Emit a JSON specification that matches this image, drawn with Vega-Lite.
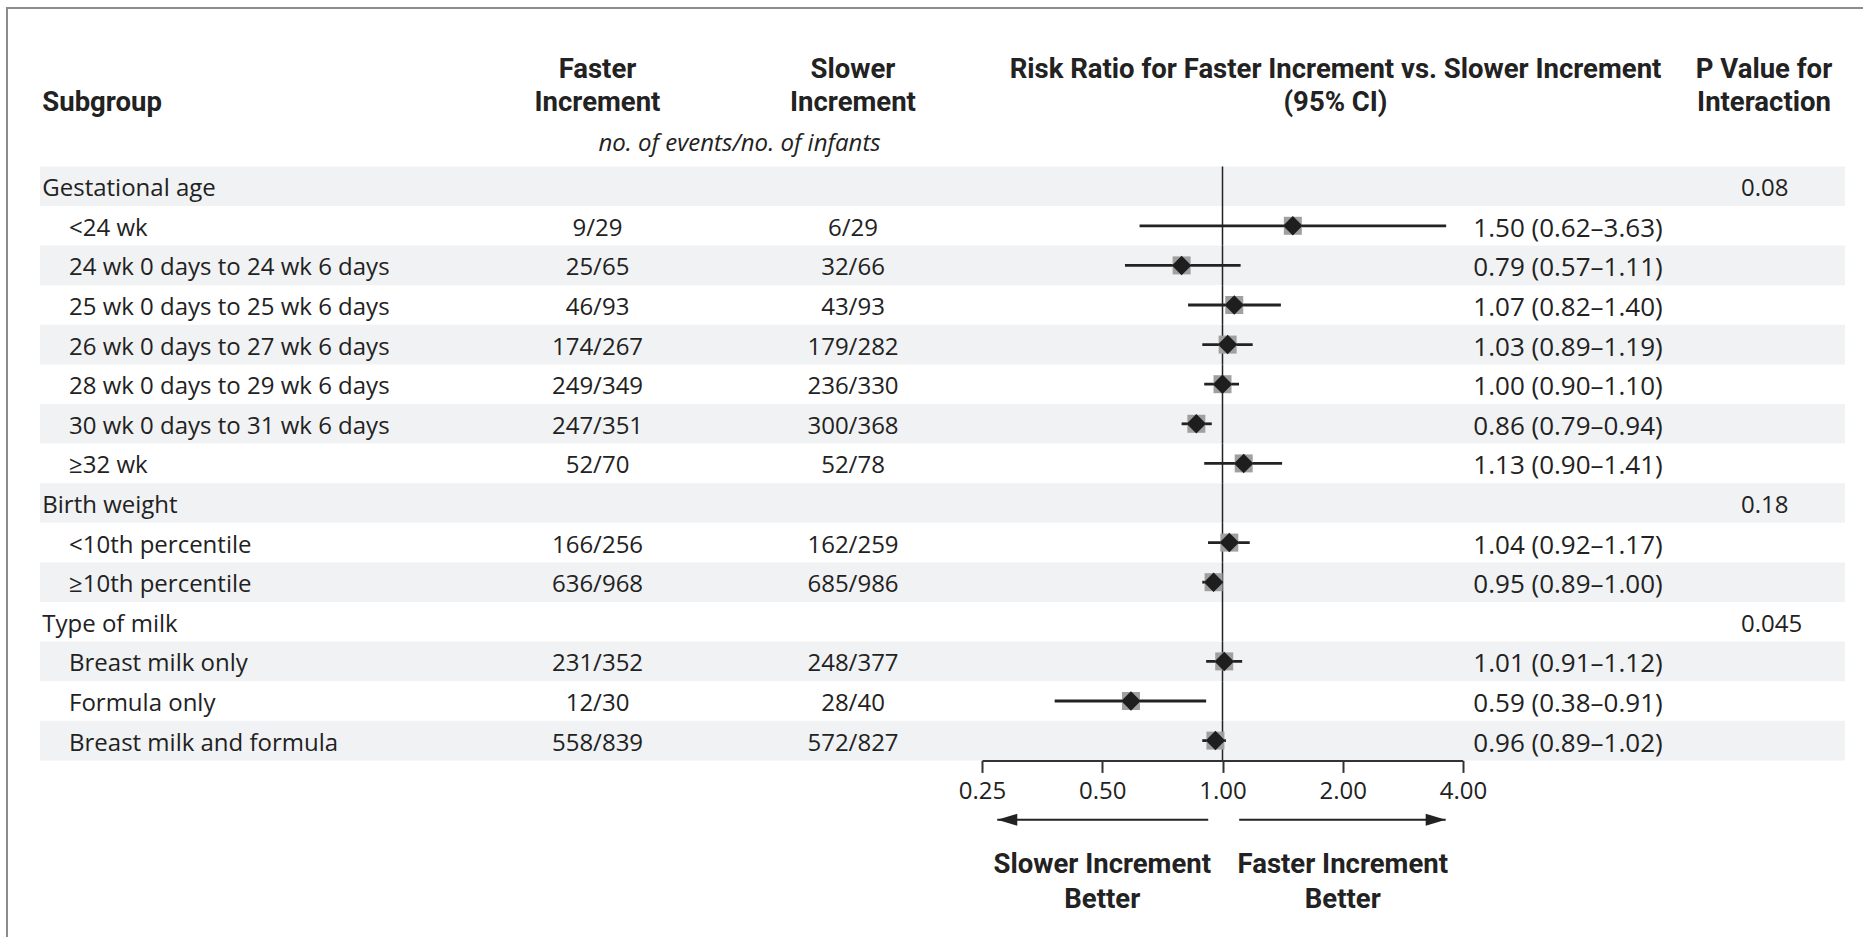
{
  "$schema": "https://vega.github.io/schema/vega-lite/v6.json",
  "padding": {"left": 6, "top": 7, "right": 0, "bottom": 0},
  "background": "white",
  "bounds": "flush",
  "spacing": 0,
  "config": {
    "view": {"stroke": null},
    "text": {"font": "Open Sans", "fontSize": 24, "color": "#222"}
  },
  "data": {"values": [
      {"row": 0, "label": "Gestational age", "level": "group", "p": "0.08"},
      {"row": 1, "label": "<24 wk", "level": "item", "faster": "9/29", "slower": "6/29", "rr": 1.50, "lo": 0.62, "hi": 3.63, "ci": "1.50 (0.62–3.63)"},
      {"row": 2, "label": "24 wk 0 days to 24 wk 6 days", "level": "item", "faster": "25/65", "slower": "32/66", "rr": 0.79, "lo": 0.57, "hi": 1.11, "ci": "0.79 (0.57–1.11)"},
      {"row": 3, "label": "25 wk 0 days to 25 wk 6 days", "level": "item", "faster": "46/93", "slower": "43/93", "rr": 1.07, "lo": 0.82, "hi": 1.40, "ci": "1.07 (0.82–1.40)"},
      {"row": 4, "label": "26 wk 0 days to 27 wk 6 days", "level": "item", "faster": "174/267", "slower": "179/282", "rr": 1.03, "lo": 0.89, "hi": 1.19, "ci": "1.03 (0.89–1.19)"},
      {"row": 5, "label": "28 wk 0 days to 29 wk 6 days", "level": "item", "faster": "249/349", "slower": "236/330", "rr": 1.00, "lo": 0.90, "hi": 1.10, "ci": "1.00 (0.90–1.10)"},
      {"row": 6, "label": "30 wk 0 days to 31 wk 6 days", "level": "item", "faster": "247/351", "slower": "300/368", "rr": 0.86, "lo": 0.79, "hi": 0.94, "ci": "0.86 (0.79–0.94)"},
      {"row": 7, "label": "≥32 wk", "level": "item", "faster": "52/70", "slower": "52/78", "rr": 1.13, "lo": 0.90, "hi": 1.41, "ci": "1.13 (0.90–1.41)"},
      {"row": 8, "label": "Birth weight", "level": "group", "p": "0.18"},
      {"row": 9, "label": "<10th percentile", "level": "item", "faster": "166/256", "slower": "162/259", "rr": 1.04, "lo": 0.92, "hi": 1.17, "ci": "1.04 (0.92–1.17)"},
      {"row": 10, "label": "≥10th percentile", "level": "item", "faster": "636/968", "slower": "685/986", "rr": 0.95, "lo": 0.89, "hi": 1.00, "ci": "0.95 (0.89–1.00)"},
      {"row": 11, "label": "Type of milk", "level": "group", "p": "0.045"},
      {"row": 12, "label": "Breast milk only", "level": "item", "faster": "231/352", "slower": "248/377", "rr": 1.01, "lo": 0.91, "hi": 1.12, "ci": "1.01 (0.91–1.12)"},
      {"row": 13, "label": "Formula only", "level": "item", "faster": "12/30", "slower": "28/40", "rr": 0.59, "lo": 0.38, "hi": 0.91, "ci": "0.59 (0.38–0.91)"},
      {"row": 14, "label": "Breast milk and formula", "level": "item", "faster": "558/839", "slower": "572/827", "rr": 0.96, "lo": 0.89, "hi": 1.02, "ci": "0.96 (0.89–1.02)"}
  ]},
  "hconcat": [
    {
      "width": 33,
      "height": 929,
      "view": {"stroke": "#8c8c8c", "strokeWidth": 2, "strokeDash": [33, 962, 940]},
      "transform": [{"filter": "false"}],
      "mark": "rect",
      "encoding": {"y": {"field": "row", "type": "ordinal", "axis": null}}
    },
    {
      "width": 431,
      "height": 910.8,
      "view": {"stroke": "#8c8c8c", "strokeWidth": 2, "strokeDash": [431, 4000]},
      "layer": [
        {
          "transform": [{"filter": "datum.row % 2 === 0"}],
          "mark": {"type": "rect", "color": "#f1f2f4"},
          "encoding": {"y": {"field": "row", "type": "ordinal", "scale": {"type": "band", "domain": [-4,-3,-2,-1,0,1,2,3,4,5,6,7,8,9,10,11,12,13,14,15,16,17,18], "paddingInner": 0, "paddingOuter": 0}, "axis": null}}
        },
        {
          "data": {"values": [{"row": -3, "level": "group", "text": "Subgroup"}]},
          "mark": {"type": "text", "align": "left", "baseline": "top", "font": "Roboto", "fontWeight": "bold", "fontSize": 27.5, "dy": 21.7},
          "encoding": {
            "y": {"field": "row", "type": "ordinal", "axis": null},
            "x": {"field": "level", "type": "nominal", "axis": null},
            "text": {"field": "text"}
          }
        },
        {
          "mark": {"type": "text", "align": "left", "baseline": "middle", "dy": 3},
          "encoding": {
            "y": {"field": "row", "type": "ordinal", "axis": null},
            "x": {"field": "level", "type": "nominal", "scale": {"type": "point", "domain": ["group", "item"], "range": [2.3, 29], "padding": 0}, "axis": null},
            "text": {"field": "label"}
          }
        }
      ]
    },
    {
      "width": 253,
      "height": 910.8,
      "view": {"stroke": "#8c8c8c", "strokeWidth": 2, "strokeDash": [253, 4000]},
      "layer": [
        {
          "transform": [{"filter": "datum.row % 2 === 0"}],
          "mark": {"type": "rect", "color": "#f1f2f4"},
          "encoding": {"y": {"field": "row", "type": "ordinal", "scale": {"type": "band", "domain": [-4,-3,-2,-1,0,1,2,3,4,5,6,7,8,9,10,11,12,13,14,15,16,17,18], "paddingInner": 0, "paddingOuter": 0}, "axis": null}}
        },
        {
          "data": {"values": [{"row": -3, "text": ["Faster", "Increment"]}]},
          "mark": {"type": "text", "align": "center", "baseline": "top", "font": "Roboto", "fontWeight": "bold", "fontSize": 27.5, "lineHeight": 33, "dy": -11.3},
          "encoding": {"y": {"field": "row", "type": "ordinal", "axis": null}, "text": {"field": "text"}}
        },
        {
          "data": {"values": [{"row": -1, "text": "no. of events/no. of infants"}]},
          "mark": {"type": "text", "align": "left", "baseline": "middle", "fontStyle": "italic", "dx": 1, "dy": -3},
          "encoding": {"y": {"field": "row", "type": "ordinal", "axis": null}, "text": {"field": "text"}}
        },
        {
          "transform": [{"filter": "isValid(datum.faster)"}],
          "mark": {"type": "text", "align": "center", "baseline": "middle", "dy": 3},
          "encoding": {"y": {"field": "row", "type": "ordinal", "axis": null}, "text": {"field": "faster"}}
        }
      ]
    },
    {
      "width": 258,
      "height": 910.8,
      "view": {"stroke": "#8c8c8c", "strokeWidth": 2, "strokeDash": [258, 4000]},
      "layer": [
        {
          "transform": [{"filter": "datum.row % 2 === 0"}],
          "mark": {"type": "rect", "color": "#f1f2f4"},
          "encoding": {"y": {"field": "row", "type": "ordinal", "scale": {"type": "band", "domain": [-4,-3,-2,-1,0,1,2,3,4,5,6,7,8,9,10,11,12,13,14,15,16,17,18], "paddingInner": 0, "paddingOuter": 0}, "axis": null}}
        },
        {
          "data": {"values": [{"row": -3, "text": ["Slower", "Increment"]}]},
          "mark": {"type": "text", "align": "center", "baseline": "top", "font": "Roboto", "fontWeight": "bold", "fontSize": 27.5, "lineHeight": 33, "dy": -11.3},
          "encoding": {"y": {"field": "row", "type": "ordinal", "axis": null}, "text": {"field": "text"}}
        },
        {
          "transform": [{"filter": "isValid(datum.slower)"}],
          "mark": {"type": "text", "align": "center", "baseline": "middle", "dy": 3},
          "encoding": {"y": {"field": "row", "type": "ordinal", "axis": null}, "text": {"field": "slower"}}
        }
      ]
    },
    {
      "width": 481,
      "height": 910.8,
      "view": {"stroke": "#8c8c8c", "strokeWidth": 2, "strokeDash": [481, 4000]},
      "layer": [
        {
          "transform": [{"filter": "datum.row % 2 === 0"}],
          "mark": {"type": "rect", "color": "#f1f2f4"},
          "encoding": {"y": {"field": "row", "type": "ordinal", "scale": {"type": "band", "domain": [-4,-3,-2,-1,0,1,2,3,4,5,6,7,8,9,10,11,12,13,14,15,16,17,18], "paddingInner": 0, "paddingOuter": 0}, "axis": null}}
        },
        {
          "data": {"values": [{"row": -3, "text": ["Risk Ratio for Faster Increment vs. Slower Increment", "(95% CI)"]}]},
          "mark": {"type": "text", "align": "center", "baseline": "top", "font": "Roboto", "fontWeight": "bold", "fontSize": 27.5, "lineHeight": 33, "dy": -11.3, "dx": 113},
          "encoding": {"y": {"field": "row", "type": "ordinal", "axis": null}, "text": {"field": "text"}}
        },
        {
          "data": {"values": [
            {"row": 0, "ref": 1}, {"row": 1, "ref": 1}, {"row": 2, "ref": 1}, {"row": 3, "ref": 1}, {"row": 4, "ref": 1},
            {"row": 5, "ref": 1}, {"row": 6, "ref": 1}, {"row": 7, "ref": 1}, {"row": 8, "ref": 1}, {"row": 9, "ref": 1},
            {"row": 10, "ref": 1}, {"row": 11, "ref": 1}, {"row": 12, "ref": 1}, {"row": 13, "ref": 1}, {"row": 14, "ref": 1}
          ]},
          "mark": {"type": "rect", "stroke": "#222", "strokeWidth": 1.5, "color": "#222"},
          "encoding": {
            "y": {"field": "row", "type": "ordinal", "axis": null},
            "x": {"field": "ref", "type": "quantitative", "scale": {"type": "log", "domain": [0.25, 4], "nice": false},
              "axis": {"values": [0.25, 0.5, 1, 2, 4], "format": ".2f", "offset": -158.4, "title": null, "grid": false, "zindex": 2,
                "domainColor": "#333", "domainWidth": 2, "tickColor": "#333", "tickWidth": 2, "tickSize": 12,
                "labelFont": "Open Sans", "labelFontSize": 24, "labelColor": "#222", "labelPadding": 7,
                "labelFlush": false, "labelOverlap": false, "labelBound": false}},
            "x2": {"field": "ref"}
          }
        },
        {
          "transform": [{"filter": "isValid(datum.rr)"}],
          "mark": {"type": "rule", "color": "#222", "strokeWidth": 2.8},
          "encoding": {
            "y": {"field": "row", "type": "ordinal", "axis": null},
            "x": {"field": "lo", "type": "quantitative",
              "axis": {"values": [0.25, 0.5, 1, 2, 4], "format": ".2f", "offset": -158.4, "title": null, "grid": false, "zindex": 2,
                "domainColor": "#333", "domainWidth": 2, "tickColor": "#333", "tickWidth": 2, "tickSize": 12,
                "labelFont": "Open Sans", "labelFontSize": 24, "labelColor": "#222", "labelPadding": 7,
                "labelFlush": false, "labelOverlap": false, "labelBound": false}},
            "x2": {"field": "hi"}
          }
        },
        {
          "transform": [{"filter": "isValid(datum.rr)"}],
          "mark": {"type": "point", "shape": "square", "filled": true, "size": 324, "color": "#a0a0a0", "opacity": 1},
          "encoding": {
            "y": {"field": "row", "type": "ordinal", "axis": null},
            "x": {"field": "rr", "type": "quantitative",
              "axis": {"values": [0.25, 0.5, 1, 2, 4], "format": ".2f", "offset": -158.4, "title": null, "grid": false, "zindex": 2,
                "domainColor": "#333", "domainWidth": 2, "tickColor": "#333", "tickWidth": 2, "tickSize": 12,
                "labelFont": "Open Sans", "labelFontSize": 24, "labelColor": "#222", "labelPadding": 7,
                "labelFlush": false, "labelOverlap": false, "labelBound": false}}
          }
        },
        {
          "transform": [{"filter": "isValid(datum.rr)"}],
          "mark": {"type": "point", "shape": "diamond", "filled": true, "size": 380, "color": "#1e1e1e", "opacity": 1},
          "encoding": {
            "y": {"field": "row", "type": "ordinal", "axis": null},
            "x": {"field": "rr", "type": "quantitative",
              "axis": {"values": [0.25, 0.5, 1, 2, 4], "format": ".2f", "offset": -158.4, "title": null, "grid": false, "zindex": 2,
                "domainColor": "#333", "domainWidth": 2, "tickColor": "#333", "tickWidth": 2, "tickSize": 12,
                "labelFont": "Open Sans", "labelFontSize": 24, "labelColor": "#222", "labelPadding": 7,
                "labelFlush": false, "labelOverlap": false, "labelBound": false}}
          }
        },
        {
          "data": {"values": [{"dir": "left", "tip": 0.273, "tail": 0.921, "row": 16}, {"dir": "right", "tip": 3.62, "tail": 1.101, "row": 16}]},
          "mark": {"type": "rule", "color": "#222", "strokeWidth": 2},
          "encoding": {
            "y": {"field": "row", "type": "ordinal", "axis": null},
            "x": {"field": "tip", "type": "quantitative",
              "axis": {"values": [0.25, 0.5, 1, 2, 4], "format": ".2f", "offset": -158.4, "title": null, "grid": false, "zindex": 2,
                "domainColor": "#333", "domainWidth": 2, "tickColor": "#333", "tickWidth": 2, "tickSize": 12,
                "labelFont": "Open Sans", "labelFontSize": 24, "labelColor": "#222", "labelPadding": 7,
                "labelFlush": false, "labelOverlap": false, "labelBound": false}},
            "x2": {"field": "tail"}
          }
        },
        {
          "data": {"values": [{"dir": "left", "tip": 0.273, "row": 16}, {"dir": "right", "tip": 3.62, "row": 16}]},
          "mark": {"type": "point", "filled": true, "size": 1600, "color": "#222", "opacity": 1},
          "encoding": {
            "y": {"field": "row", "type": "ordinal", "axis": null},
            "x": {"field": "tip", "type": "quantitative",
              "axis": {"values": [0.25, 0.5, 1, 2, 4], "format": ".2f", "offset": -158.4, "title": null, "grid": false, "zindex": 2,
                "domainColor": "#333", "domainWidth": 2, "tickColor": "#333", "tickWidth": 2, "tickSize": 12,
                "labelFont": "Open Sans", "labelFontSize": 24, "labelColor": "#222", "labelPadding": 7,
                "labelFlush": false, "labelOverlap": false, "labelBound": false}},
            "shape": {"field": "dir", "type": "nominal", "scale": {"domain": ["left", "right"], "range": ["M0,0L1,-0.3L1,0.3Z", "M0,0L-1,-0.3L-1,0.3Z"]}, "legend": null}
          }
        },
        {
          "data": {"values": [{"pos": 0.5, "text": ["Slower Increment", "Better"], "row": 17}, {"pos": 2, "text": ["Faster Increment", "Better"], "row": 17}]},
          "mark": {"type": "text", "align": "center", "baseline": "top", "font": "Roboto", "fontWeight": "bold", "fontSize": 27.5, "lineHeight": 35, "dy": -8.9},
          "encoding": {
            "y": {"field": "row", "type": "ordinal", "axis": null},
            "x": {"field": "pos", "type": "quantitative",
              "axis": {"values": [0.25, 0.5, 1, 2, 4], "format": ".2f", "offset": -158.4, "title": null, "grid": false, "zindex": 2,
                "domainColor": "#333", "domainWidth": 2, "tickColor": "#333", "tickWidth": 2, "tickSize": 12,
                "labelFont": "Open Sans", "labelFontSize": 24, "labelColor": "#222", "labelPadding": 7,
                "labelFlush": false, "labelOverlap": false, "labelBound": false}},
            "text": {"field": "text"}
          }
        }
      ]
    },
    {
      "width": 220,
      "height": 910.8,
      "view": {"stroke": "#8c8c8c", "strokeWidth": 2, "strokeDash": [220, 4000]},
      "layer": [
        {
          "transform": [{"filter": "datum.row % 2 === 0"}],
          "mark": {"type": "rect", "color": "#f1f2f4"},
          "encoding": {"y": {"field": "row", "type": "ordinal", "scale": {"type": "band", "domain": [-4,-3,-2,-1,0,1,2,3,4,5,6,7,8,9,10,11,12,13,14,15,16,17,18], "paddingInner": 0, "paddingOuter": 0}, "axis": null}}
        },
        {
          "transform": [{"filter": "isValid(datum.ci)"}],
          "mark": {"type": "text", "align": "center", "baseline": "middle", "dy": 3, "dx": -5, "fontSize": 26},
          "encoding": {"y": {"field": "row", "type": "ordinal", "axis": null}, "text": {"field": "ci"}}
        }
      ]
    },
    {
      "width": 162,
      "height": 910.8,
      "view": {"stroke": "#8c8c8c", "strokeWidth": 2, "strokeDash": [162, 4000]},
      "layer": [
        {
          "transform": [{"filter": "datum.row % 2 === 0"}],
          "mark": {"type": "rect", "color": "#f1f2f4"},
          "encoding": {"y": {"field": "row", "type": "ordinal", "scale": {"type": "band", "domain": [-4,-3,-2,-1,0,1,2,3,4,5,6,7,8,9,10,11,12,13,14,15,16,17,18], "paddingInner": 0, "paddingOuter": 0}, "axis": null}}
        },
        {
          "data": {"values": [{"row": -3, "text": ["P Value for", "Interaction"]}]},
          "mark": {"type": "text", "align": "center", "baseline": "top", "font": "Roboto", "fontWeight": "bold", "fontSize": 27.5, "lineHeight": 33, "dy": -11.3},
          "encoding": {"y": {"field": "row", "type": "ordinal", "axis": null}, "text": {"field": "text"}}
        },
        {
          "transform": [{"filter": "isValid(datum.p)"}],
          "mark": {"type": "text", "align": "left", "baseline": "middle", "dy": 3, "dx": -23},
          "encoding": {"y": {"field": "row", "type": "ordinal", "axis": null}, "text": {"field": "p"}}
        }
      ]
    },
    {
      "width": 18,
      "height": 910.8,
      "view": {"stroke": "#8c8c8c", "strokeWidth": 2, "strokeDash": [18, 4000]},
      "transform": [{"filter": "false"}],
      "mark": "rect",
      "encoding": {"y": {"field": "row", "type": "ordinal", "axis": null}}
    }
  ]
}
